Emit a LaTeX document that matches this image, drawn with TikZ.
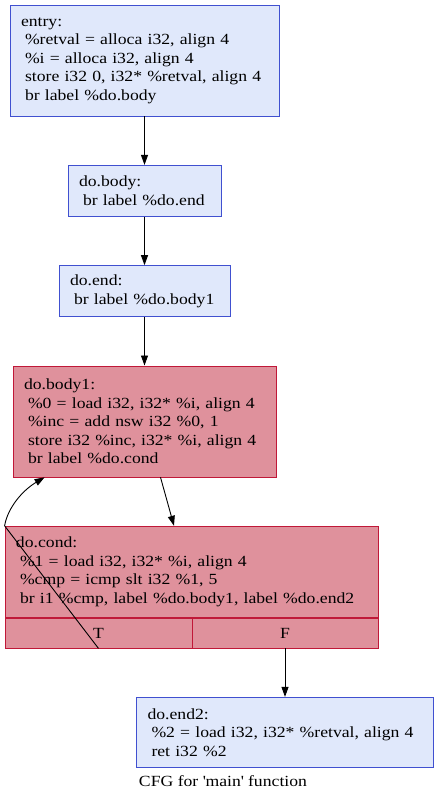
\documentclass[tikz,border=0pt]{standalone}
\usepackage{fontspec}
\setmainfont[FakeStretch=1.14]{Liberation Serif}
\usetikzlibrary{arrows.meta,positioning,calc}
\definecolor{blkfill}{RGB}{224,232,251}
\definecolor{blkline}{RGB}{64,80,208}
\definecolor{hotfill}{RGB}{223,145,156}
\definecolor{hotline}{RGB}{192,24,56}
\newcommand{\cfgfont}{\fontsize{15.5pt}{18.5pt}\selectfont}
\newcommand{\ind}{\hspace*{4pt}}
\tikzset{
  cfgbox/.style={
    line width=0.8pt, align=left, inner xsep=11pt, inner ysep=3pt,
    font=\cfgfont
  },
  blk/.style={cfgbox, draw=blkline, fill=blkfill},
  hot/.style={cfgbox, draw=hotline, fill=hotfill},
  portbox/.style={
    draw=hotline, fill=hotfill, line width=0.8pt, inner sep=0pt,
    minimum height=30pt, font=\cfgfont
  },
  arr/.style={-{Triangle[length=10pt,width=7pt]}, draw=black, line width=0.9pt}
}

\begin{document}
\begin{tikzpicture}[x=1pt, y=-1pt, node distance=48.5pt]
  \useasboundingbox (0,0) rectangle (438,804);
  \node[blk, text width=247pt, minimum height=111pt] (entry) at (144.5,60.5)
    {entry:\\ \ind\%retval = alloca i32, align 4\\ \ind\%i = alloca i32, align 4\\
     \ind store i32 0, i32* \%retval, align 4\\ \ind br label \%do.body};
  \node[blk, below=of entry, text width=131pt, minimum height=51pt] (body)
    {do.body:\\ \ind br label \%do.end};
  \node[blk, below=of body, text width=149pt, minimum height=51pt] (end)
    {do.end:\\ \ind br label \%do.body1};
  \node[hot, below=of end, text width=241pt, minimum height=111pt] (body1)
    {do.body1:\\ \ind\%0 = load i32, i32* \%i, align 4\\ \ind\%inc = add nsw i32 \%0, 1\\
     \ind store i32 \%inc, i32* \%i, align 4\\ \ind br label \%do.cond};
  \node[hot, below=of body1, xshift=47pt, text width=351pt, minimum height=91pt] (cond)
    {do.cond:\\ \ind\%1 = load i32, i32* \%i, align 4\\ \ind\%cmp = icmp slt i32 \%1, 5\\
     \ind br i1 \%cmp, label \%do.body1, label \%do.end2};
  \node[portbox, anchor=north west, minimum width=187pt] (condT) at (cond.south west) {T};
  \node[portbox, anchor=north east, minimum width=186pt] (condF) at (cond.south east) {F};
  \node[blk, below=of condF, text width=275pt, minimum height=70pt] (end2)
    {do.end2:\\ \ind\%2 = load i32, i32* \%retval, align 4\\ \ind ret i32 \%2};
  \node[font=\cfgfont, inner sep=0pt] (title) at (223,781)
    {CFG for \textquotesingle main\textquotesingle\ function};

  \draw[arr] (entry) -- (body);
  \draw[arr] (body) -- (end);
  \draw[arr] (end) -- (body1);
  \draw[arr] ($(body1.south)+(16,0)$) -- ($(cond.north)+(-17.5,0)$);
  \draw[arr] (condT.south) -- (cond.north west)
    .. controls +(3,-18) and +(-22,13) .. ($(body1.south west)+(32,0)$);
  \draw[arr] (condF) -- (end2);
\end{tikzpicture}
\end{document}
